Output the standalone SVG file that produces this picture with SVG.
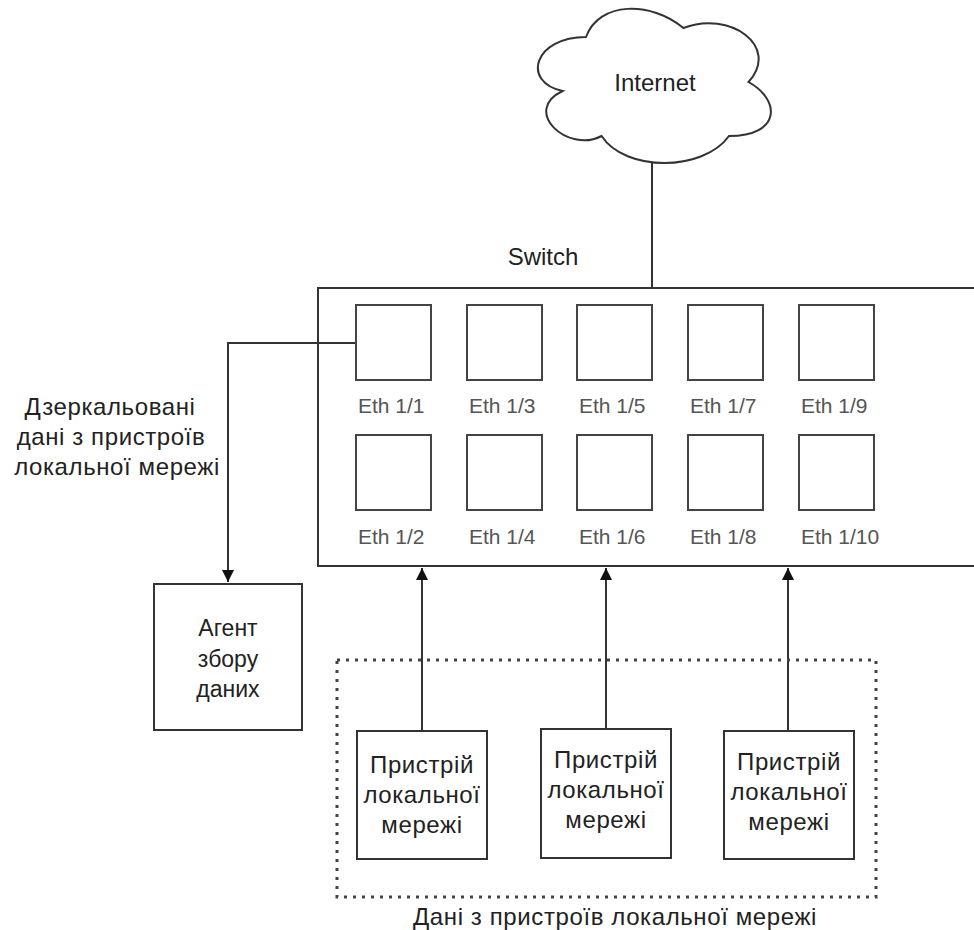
<svg xmlns="http://www.w3.org/2000/svg" width="974" height="930" viewBox="0 0 974 930">
<style>
.bx{fill:#fff;stroke:#333;stroke-width:2}
.port{fill:#fff;stroke:#444;stroke-width:2}
.ln{fill:none;stroke:#333;stroke-width:2}
.t{font-family:"Liberation Sans",Arial,sans-serif;fill:#222;text-anchor:middle}
.cy{font-size:24px;letter-spacing:0.6px}
.eth{font-family:"Liberation Sans",Arial,sans-serif;fill:#555;font-size:21px}
</style>
<defs>
<marker id="arr" markerUnits="userSpaceOnUse" markerWidth="12" markerHeight="12" refX="12" refY="6" orient="auto">
<path d="M0,0 L12,6 L0,12 z" fill="#111"/>
</marker>
</defs>
<rect width="974" height="930" fill="#fff"/>
<g id="switch">
<text class="t" x="543" y="265" font-size="24">Switch</text>
<rect x="318" y="288" width="680" height="278" fill="#fff" stroke="#333" stroke-width="2"/>
</g>
<g id="connectors">
<line class="ln" x1="652" y1="150" x2="652" y2="288"/>
<polyline class="ln" points="356,343 228,343 228,582" marker-end="url(#arr)"/>
<line class="ln" x1="422" y1="731" x2="422" y2="568" marker-end="url(#arr)"/>
<line class="ln" x1="606" y1="729" x2="606" y2="568" marker-end="url(#arr)"/>
<line class="ln" x1="788" y1="731" x2="788" y2="568" marker-end="url(#arr)"/>
</g>
<g id="internet">
<path class="bx" d="M586,37 C534,37 521,82 562.6,91 C521,110.8 567.8,154 601.6,136 C625,172 703,172 729,136 C781,136 781,100 748.5,82 C781,46 729,10 683.5,28 C651,1 599,1 586,37 Z"/>
<text class="t" x="655" y="91" font-size="24">Internet</text>
</g>
<g id="ports">
<rect class="port" x="356" y="305" width="75" height="75"/>
<rect class="port" x="467" y="305" width="75" height="75"/>
<rect class="port" x="577" y="305" width="75" height="75"/>
<rect class="port" x="688" y="305" width="75" height="75"/>
<rect class="port" x="799" y="305" width="75" height="75"/>
<rect class="port" x="356" y="435" width="75" height="75"/>
<rect class="port" x="467" y="435" width="75" height="75"/>
<rect class="port" x="577" y="435" width="75" height="75"/>
<rect class="port" x="688" y="435" width="75" height="75"/>
<rect class="port" x="799" y="435" width="75" height="75"/>
<text class="eth" x="358" y="413">Eth 1/1</text>
<text class="eth" x="469" y="413">Eth 1/3</text>
<text class="eth" x="579" y="413">Eth 1/5</text>
<text class="eth" x="690" y="413">Eth 1/7</text>
<text class="eth" x="801" y="413">Eth 1/9</text>
<text class="eth" x="358" y="544">Eth 1/2</text>
<text class="eth" x="469" y="544">Eth 1/4</text>
<text class="eth" x="579" y="544">Eth 1/6</text>
<text class="eth" x="690" y="544">Eth 1/8</text>
<text class="eth" x="801" y="544">Eth 1/10</text>
</g>
<g id="mirror-label">
<text class="t cy"><tspan x="110" y="415">Дзеркальовані</tspan><tspan x="111" y="445">дані з пристроїв</tspan><tspan x="117" y="475">локальної мережі</tspan></text>
</g>
<g id="agent">
<rect class="bx" x="154" y="584" width="148" height="146"/>
<text class="t" font-size="23"><tspan x="228" y="636">Агент</tspan><tspan x="228" y="667">збору</tspan><tspan x="228" y="697">даних</tspan></text>
</g>
<g id="local-group">
<rect x="337" y="660" width="539" height="237" fill="none" stroke="#444" stroke-width="3" stroke-dasharray="3 6"/>
<text class="t cy" x="615" y="925">Дані з пристроїв локальної мережі</text>
</g>
<g id="device1">
<rect class="bx" x="357" y="731" width="130" height="128"/>
<text class="t cy"><tspan x="422" y="773">Пристрій</tspan><tspan x="422" y="803">локальної</tspan><tspan x="422" y="833">мережі</tspan></text>
</g>
<g id="device2">
<rect class="bx" x="541" y="729" width="130" height="129"/>
<text class="t cy"><tspan x="606" y="768">Пристрій</tspan><tspan x="606" y="798">локальної</tspan><tspan x="606" y="828">мережі</tspan></text>
</g>
<g id="device3">
<rect class="bx" x="724" y="731" width="130" height="128"/>
<text class="t cy"><tspan x="789" y="770">Пристрій</tspan><tspan x="789" y="800">локальної</tspan><tspan x="789" y="830">мережі</tspan></text>
</g>
</svg>
